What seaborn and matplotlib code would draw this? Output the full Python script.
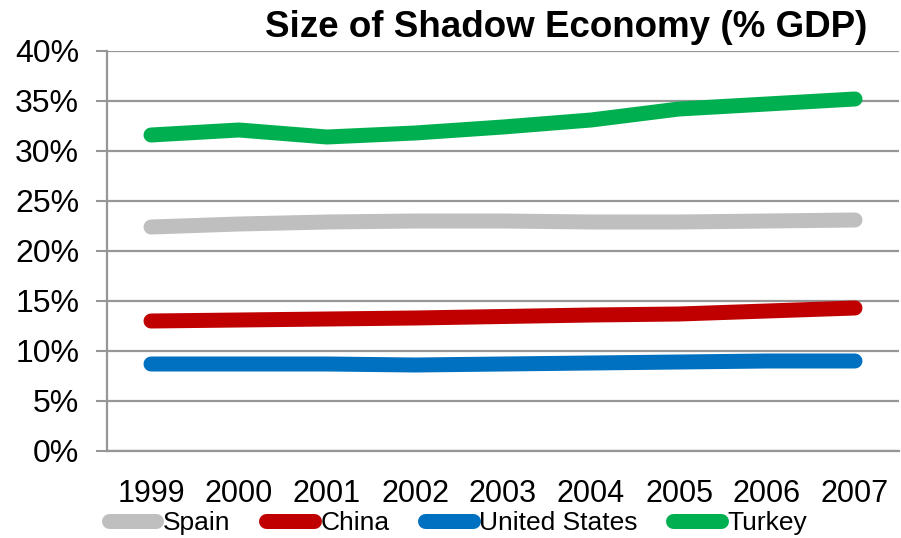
import numpy as np
import pandas as pd
import matplotlib
matplotlib.use("Agg")
import matplotlib.pyplot as plt
from matplotlib.ticker import FixedLocator, PercentFormatter
import seaborn as sns

years = ["1999", "2000", "2001", "2002", "2003", "2004", "2005", "2006", "2007"]
spain = [22.4, 22.7, 22.9, 23.0, 23.0, 22.9, 22.9, 23.0, 23.1]
china = [13.0, 13.1, 13.2, 13.3, 13.45, 13.6, 13.7, 14.0, 14.3]
united_states = [8.7, 8.7, 8.7, 8.6, 8.7, 8.8, 8.9, 9.0, 9.0]
turkey = [31.6, 32.1, 31.4, 31.8, 32.4, 33.1, 34.2, 34.7, 35.2]

countries = ["Spain", "China", "United States", "Turkey"]
colors = ["#BFBFBF", "#C00000", "#0070C0", "#00B050"]
title = "Size of Shadow Economy (% GDP)"

df = pd.DataFrame({
    "year": years * 4,
    "pos": list(range(len(years))) * 4,
    "value": spain + china + united_states + turkey,
    "country": sum([[c] * len(years) for c in countries], []),
})

sns.set_style("white")
plt.rcParams["font.family"] = ["Liberation Sans", "DejaVu Sans"]
plt.rcParams["text.color"] = "black"
plt.rcParams["xtick.color"] = "black"
plt.rcParams["ytick.color"] = "black"

fig = plt.figure(figsize=(9.01, 5.38), dpi=100)
ax = fig.add_axes([107 / 901, 1 - 451 / 538, 792 / 901, 400 / 538])

sns.lineplot(data=df, x="pos", y="value", hue="country", hue_order=countries,
             palette=colors, linewidth=10.8, ax=ax, legend=False,
             solid_capstyle="round", sort=False)

ax.set_xlim(-0.5, len(years) - 0.5)
ax.set_ylim(0, 40)
ax.set_xlabel("")
ax.set_ylabel("")

grid_c = "#969696"
ax.set_yticks(np.arange(0, 41, 5))
ax.yaxis.set_major_formatter(PercentFormatter(decimals=0))
ax.grid(axis="y", color=grid_c, linewidth=1.6)
ax.set_axisbelow(True)

ax.set_xticks(range(len(years)))
ax.set_xticklabels(years)
ax.xaxis.set_minor_locator(FixedLocator(np.arange(-0.5, len(years), 1.0)))
ax.tick_params(axis="x", which="major", length=0, pad=20, labelsize=22,
               labelcolor="black")
ax.tick_params(axis="x", which="minor", length=8, width=1.5, color=grid_c, direction="out")
ax.tick_params(axis="y", which="major", length=8, width=1.5, color=grid_c,
               direction="out", pad=12, labelsize=23, left=True, labelcolor="black")

for side in ["top", "right"]:
    ax.spines[side].set_visible(False)
for side in ["left", "bottom"]:
    ax.spines[side].set_color(grid_c)
    ax.spines[side].set_linewidth(1.6)

fig.text(566 / 901, 1 - 28 / 538, title, ha="center", va="center",
         fontsize=26.5, fontweight="bold", color="black")

handles = [plt.Line2D([], [], color=c, linewidth=10.8, solid_capstyle="round")
           for c in colors]
fig.legend(handles, countries, loc="center", bbox_to_anchor=(458 / 901, 1 - 523 / 538),
           ncol=4, frameon=False, fontsize=19, handlelength=1.8, handletextpad=0.25,
           columnspacing=1.35, borderpad=0, borderaxespad=0)

fig.savefig("out.png", dpi=100)
